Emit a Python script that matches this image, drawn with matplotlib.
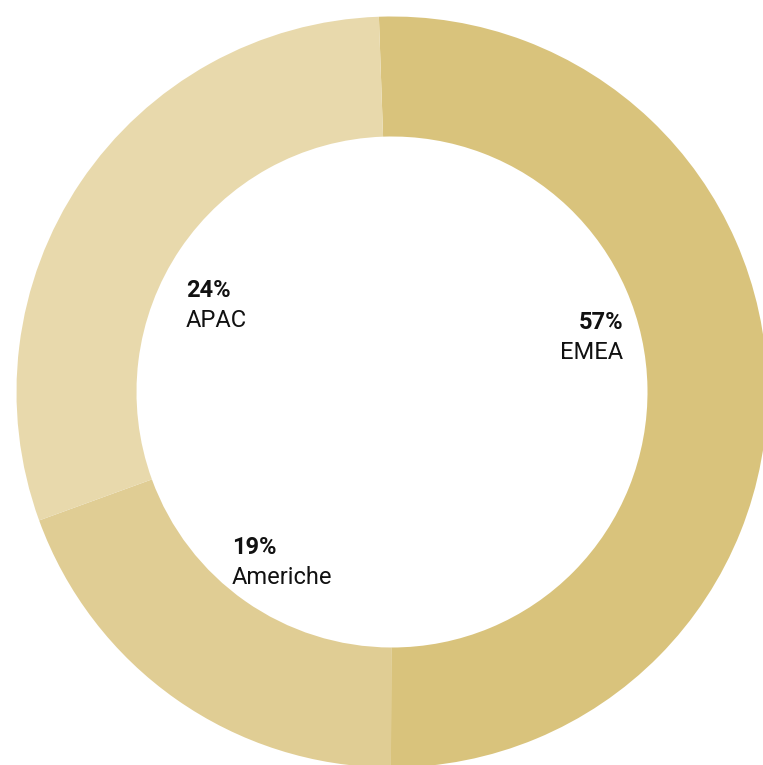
import matplotlib
matplotlib.use("Agg")
import matplotlib.pyplot as plt

# Data (slice sizes read from the drawn arcs; labels as shown)
categories = ["EMEA", "Americhe", "APAC"]
arc_sizes = [50.6, 19.4, 30.0]
pct_labels = ["57%", "19%", "24%"]
colors = ["#d9c37c", "#e0cd94", "#e8d9ac"]

W, H = 763, 765
fig = plt.figure(figsize=(W / 100, H / 100), dpi=100)
ax = fig.add_axes([0, 0, 1, 1])

cx, cy = 392, H - 392
R = 375.5
ring = 120

ax.pie(arc_sizes, colors=colors, startangle=92, counterclock=False,
       center=(cx, cy), radius=R,
       wedgeprops=dict(width=ring, linewidth=0))
ax.set_xlim(0, W)
ax.set_ylim(0, H)
ax.set_aspect("equal")
ax.axis("off")

# label positions in pixel coords (x, baseline of pct, alignment)
label_pos = {
    "EMEA": (623, 329, "right"),
    "Americhe": (232, 554, "left"),
    "APAC": (186, 297, "left"),
}
fam = ["Roboto", "DejaVu Sans"]
for cat, pct in zip(categories, pct_labels):
    x, yb, ha = label_pos[cat]
    fig.text(x / W, 1 - yb / H, pct, ha=ha, va="baseline", fontsize=17,
             fontweight="bold", color="#111111", family=fam)
    fig.text(x / W, 1 - (yb + 30) / H, cat, ha=ha, va="baseline", fontsize=17,
             color="#111111", family=fam)

fig.savefig("out.png", dpi=100)
